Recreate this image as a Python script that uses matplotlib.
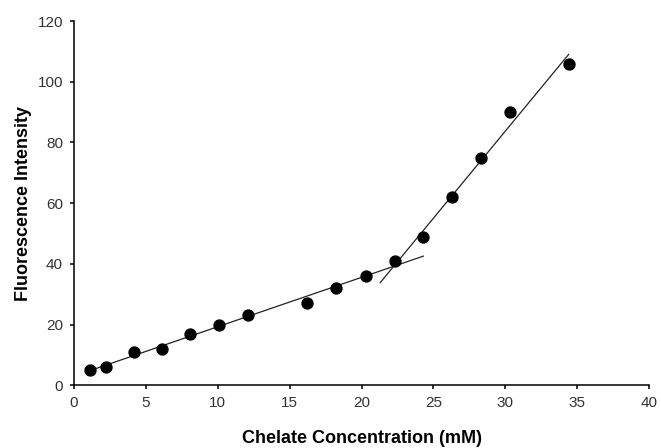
import matplotlib.pyplot as plt
import numpy as np

plt.rcParams['font.family'] = ['Liberation Sans', 'DejaVu Sans']

# chelate concentration (mM) and fluorescence intensity
conc = [1.1, 2.2, 4.2, 6.1, 8.1, 10.1, 12.1, 16.2, 18.2, 20.3, 22.3, 24.3, 26.3, 28.3, 30.3, 34.4]
fluor = [5.0, 6.0, 11.0, 12.0, 17.0, 20.0, 23.0, 27.0, 32.0, 36.0, 41.0, 49.0, 62.0, 75.0, 90.0, 106.0]

# two linear regimes: fit index ranges and drawn x extents
low_idx = slice(0, 11)
high_idx = slice(11, 16)
low_range = [1.0, 24.3]
high_range = [21.3, 34.4]

x = np.array(conc)
y = np.array(fluor)
p_low = np.polyfit(x[low_idx], y[low_idx], 1)
p_high = np.polyfit(x[high_idx], y[high_idx], 1)

fig = plt.figure(figsize=(6.61, 4.48), dpi=100)
ax = fig.add_axes([0.112, 0.14, 0.870, 0.813])

xl = np.array(low_range)
xh = np.array(high_range)
ax.plot(xl, np.polyval(p_low, xl), color='#222222', lw=0.9)
ax.plot(xh, np.polyval(p_high, xh), color='#222222', lw=0.9)
ax.scatter(x, y, s=62, color='black', zorder=3)

ax.set_xlim(0, 40)
ax.set_ylim(0, 120)
ax.set_xticks(np.arange(0, 41, 5))
ax.set_yticks(np.arange(0, 121, 20))
ax.spines['top'].set_visible(False)
ax.spines['right'].set_visible(False)
for s in ['left', 'bottom']:
    ax.spines[s].set_linewidth(1.1)
ax.tick_params(direction='out', length=3, width=1.1, labelsize=11, labelcolor='#333333', pad=5)

ax.set_xlabel('Chelate Concentration (mM)', fontsize=13, fontweight='bold', labelpad=14)
ax.set_ylabel('Fluorescence Intensity', fontsize=13, fontweight='bold', labelpad=4)

fig.savefig('out.png', dpi=100)
